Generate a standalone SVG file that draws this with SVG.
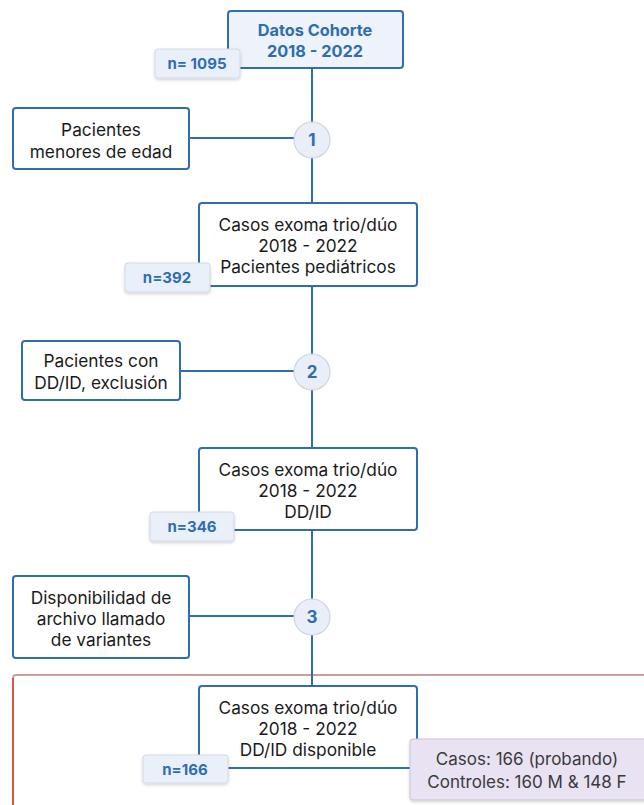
<svg xmlns="http://www.w3.org/2000/svg" width="644" height="805" viewBox="0 0 644 805">
  <defs>
    <filter id="shadow" x="-20%" y="-30%" width="140%" height="170%">
      <feDropShadow dx="0" dy="1.5" stdDeviation="1.5" flood-color="#000" flood-opacity="0.18"/>
    </filter>
    <style>
      .box { fill: #ffffff; stroke: #2f6db0; stroke-width: 2; }
      .head { fill: #edf2fb; stroke: #2f6db0; stroke-width: 2; }
      .badge { fill: #eaf0fa; stroke: #d3dae4; stroke-width: 1; filter: url(#shadow); }
      .note { fill: #e8e2f2; stroke: #c9c3d3; stroke-width: 1; filter: url(#shadow); }
      .step { fill: #e9eef8; stroke: #cfd6e0; stroke-width: 1.2; }
      .link { stroke: #2f6db0; stroke-width: 2; fill: none; }
      text { font-family: "Inter", "Liberation Sans", sans-serif; text-anchor: middle; }
      .t { font-size: 17.3px; fill: #1a1a1a; }
      .tb { font-size: 16.3px; font-weight: 700; fill: #2f6db0; }
      .n { font-size: 15px; font-weight: 700; fill: #2f6db0; }
      .c { font-size: 17px; font-weight: 700; fill: #2f6db0; }
      .nt { font-size: 17px; fill: #3a3a3a; }
    </style>
  </defs>

  <!-- outer frame of the final stage -->
  <g id="frame">
    <path d="M13 805 V678 Q13 675 16 675 H644" fill="none" stroke="#c9a09c" stroke-width="2"/>
    <line x1="13" y1="678" x2="13" y2="805" stroke="#d2584a" stroke-width="2"/>
  </g>

  <!-- connectors -->
  <g id="connectors">
    <line class="link" x1="312" y1="68" x2="312" y2="686"/>
    <line class="link" x1="189" y1="138" x2="312" y2="138"/>
    <line class="link" x1="180" y1="371" x2="312" y2="371"/>
    <line class="link" x1="189" y1="616" x2="312" y2="616"/>
  </g>

  <g id="cohort">
    <rect class="head" x="228" y="11" width="175" height="57" rx="3"/>
    <text class="tb" x="315" y="36">Datos Cohorte</text>
    <text class="tb" x="315" y="57">2018 - 2022</text>
  </g>
  <g id="n1095">
    <rect class="badge" x="155" y="49" width="85" height="29" rx="3"/>
    <text class="n" x="197" y="69">n= 1095</text>
  </g>

  <g id="excl1">
    <rect class="box" x="13" y="108" width="176" height="61" rx="3"/>
    <text class="t" x="101" y="136">Pacientes</text>
    <text class="t" x="101" y="158">menores de edad</text>
  </g>
  <g id="step1">
    <circle class="step" cx="312" cy="140" r="18"/>
    <text class="c" x="312" y="146">1</text>
  </g>

  <g id="pediatric">
    <rect class="box" x="199" y="203" width="218" height="83" rx="3"/>
    <text class="t" x="308" y="231">Casos exoma trio/dúo</text>
    <text class="t" x="308" y="252">2018 - 2022</text>
    <text class="t" x="308" y="273">Pacientes pediátricos</text>
  </g>
  <g id="n392">
    <rect class="badge" x="125" y="263" width="85" height="29" rx="3"/>
    <text class="n" x="167" y="283">n=392</text>
  </g>

  <g id="excl2">
    <rect class="box" x="22" y="341" width="158" height="59" rx="3"/>
    <text class="t" x="101" y="367">Pacientes con</text>
    <text class="t" x="101" y="389">DD/ID, exclusión</text>
  </g>
  <g id="step2">
    <circle class="step" cx="312" cy="372" r="18"/>
    <text class="c" x="312" y="378">2</text>
  </g>

  <g id="ddid">
    <rect class="box" x="199" y="448" width="218" height="82" rx="3"/>
    <text class="t" x="308" y="476">Casos exoma trio/dúo</text>
    <text class="t" x="308" y="497">2018 - 2022</text>
    <text class="t" x="308" y="518">DD/ID</text>
  </g>
  <g id="n346">
    <rect class="badge" x="150" y="512" width="84" height="29" rx="3"/>
    <text class="n" x="192" y="532">n=346</text>
  </g>

  <g id="excl3">
    <rect class="box" x="13" y="576" width="176" height="82" rx="3"/>
    <text class="t" x="101" y="604">Disponibilidad de</text>
    <text class="t" x="101" y="625">archivo llamado</text>
    <text class="t" x="101" y="646">de variantes</text>
  </g>
  <g id="step3">
    <circle class="step" cx="312" cy="617" r="18"/>
    <text class="c" x="312" y="623">3</text>
  </g>

  <g id="available">
    <rect class="box" x="199" y="686" width="218" height="82" rx="3"/>
    <text class="t" x="308" y="714">Casos exoma trio/dúo</text>
    <text class="t" x="308" y="735">2018 - 2022</text>
    <text class="t" x="308" y="756">DD/ID disponible</text>
  </g>
  <g id="n166">
    <rect class="badge" x="143" y="755" width="85" height="28" rx="3"/>
    <text class="n" x="185" y="775">n=166</text>
  </g>

  <g id="summary">
    <rect class="note" x="410" y="739" width="240" height="61" rx="3"/>
    <text class="nt" x="527" y="765">Casos: 166 (probando)</text>
    <text class="nt" x="527" y="788">Controles: 160 M &amp; 148 F</text>
  </g>
</svg>
